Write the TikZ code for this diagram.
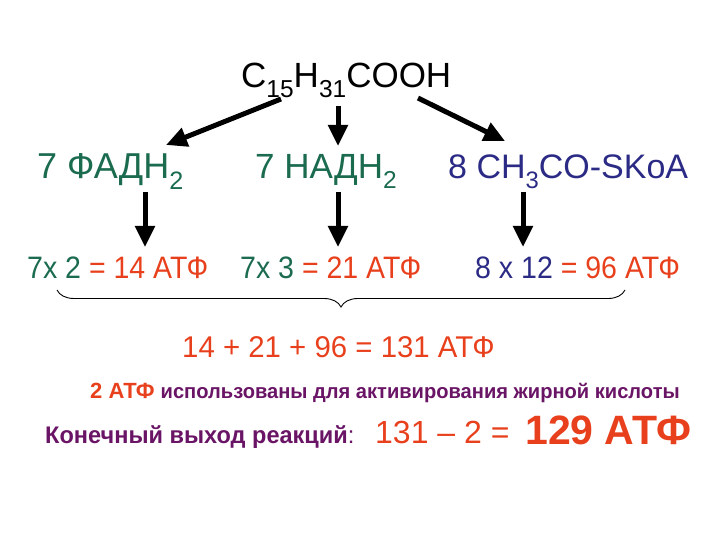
\documentclass[tikz,border=0pt]{standalone}
\usepackage{fontspec}
\setmainfont{Liberation Sans}
\usetikzlibrary{arrows.meta,decorations.pathreplacing}
\definecolor{cgreen}{HTML}{1B6B4F}
\definecolor{cnavy}{HTML}{2B2B86}
\definecolor{cred}{HTML}{E8401C}
\definecolor{cpurp}{HTML}{6A1466}
\newcommand{\sbs}[1]{\raisebox{-0.28em}{\scalebox{0.7}{#1}}}
\newcommand{\fsz}[1]{\fontsize{#1}{#1}\selectfont}
\begin{document}
\begin{tikzpicture}[x=1pt,y=-1pt,
  txt/.style={inner sep=0pt,anchor=base west},
  arr/.style={line width=5pt,-{Triangle[length=21pt,width=19pt]}}]
\useasboundingbox (0,0) rectangle (720,540);
\node[txt] (title) at (241,88) {\fsz{35}C\sbs{15}H\sbs{31}COOH};
\node[txt,cgreen] (fad) at (37,179) {\fsz{36}7 ФАДН\sbs{2}};
\node[txt,cgreen] (nad) at (255,179) {\fsz{35}7 НАДН\sbs{2}};
\node[txt,cnavy] (acc) at (448,179) {\fsz{34}8 CH\sbs{3}CO-SKoA};
\node[txt] (r1) at (27,278) {\fsz{31}\scalebox{0.92}[1]{\textcolor{cgreen}{7x 2} \textcolor{cred}{= 14 АТФ}}};
\node[txt] (r2) at (240,278) {\fsz{31}\scalebox{0.92}[1]{\textcolor{cgreen}{7x 3} \textcolor{cred}{= 21 АТФ}}};
\node[txt] (r3) at (475,278) {\fsz{31}\scalebox{0.92}[1]{\textcolor{cnavy}{8 x 12} \textcolor{cred}{= 96 АТФ}}};
\node[txt,cred] (sum) at (182,357) {\fsz{30}\scalebox{0.98}[1]{14 + 21 + 96 = 131 АТФ}};
\node[txt] (use) at (90,398) {\bfseries\textcolor{cred}{\fsz{22}2 АТФ}\hspace{6pt}\textcolor{cpurp}{\fsz{20.5}\scalebox{0.98}[1]{использованы для активирования жирной кислоты}}};
\node[txt,cpurp] (fin) at (45,443) {\fsz{24}\scalebox{0.98}[1]{\bfseries Конечный выход реакций\mdseries:}};
\node[txt,cred] (eq) at (375,443) {\fsz{32}131 -- 2 =};
\node[txt,cred] (res) at (525,444) {\fsz{41}\bfseries 129 АТФ};
\coordinate (a1s) at (281,99); \coordinate (a1e) at (166,145);
\coordinate (a2s) at (338,106); \coordinate (a2e) at (338,146);
\coordinate (a3s) at (418,98); \coordinate (a3e) at (505,141);
\coordinate (v1s) at (145,192); \coordinate (v1e) at (145,247);
\coordinate (v2s) at (338,192); \coordinate (v2e) at (338,247);
\coordinate (v3s) at (523,192); \coordinate (v3e) at (523,247);
\draw[arr] (a1s) -- (a1e);
\draw[arr] (a2s) -- (a2e);
\draw[arr] (a3s) -- (a3e);
\draw[arr] (v1s) -- (v1e);
\draw[arr] (v2s) -- (v2e);
\draw[arr] (v3s) -- (v3e);
\coordinate (bl) at (57,290); \coordinate (br) at (625,290);
\draw[line width=0.9pt,decorate,decoration={brace,mirror,amplitude=17pt}] (bl) -- (br);
\end{tikzpicture}
\end{document}
